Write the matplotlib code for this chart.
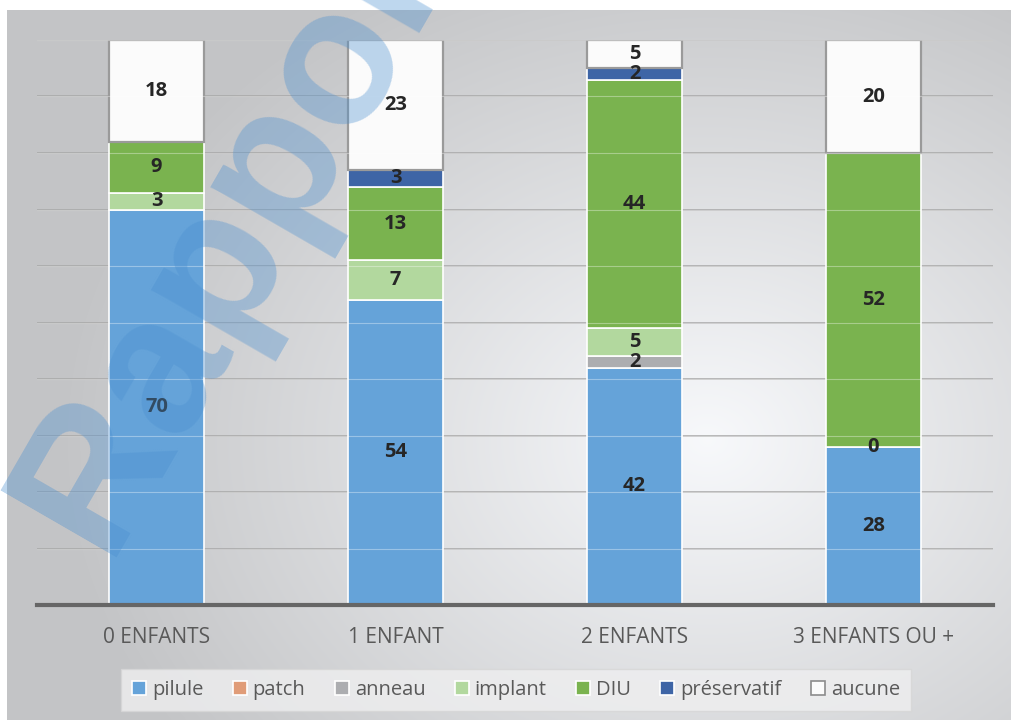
import numpy as np
import matplotlib
matplotlib.use("Agg")
import matplotlib.pyplot as plt
from matplotlib.patches import Patch

# data
categories = ["0 ENFANTS", "1 ENFANT", "2 ENFANTS", "3 ENFANTS OU +"]
methods = ["pilule", "patch", "anneau", "implant", "DIU", "préservatif", "aucune"]
pilule = [70, 54, 42, 28]
patch = [None, None, None, None]
anneau = [None, None, 2, None]
implant = [3, 7, 5, 0]
diu = [9, 13, 44, 52]
preservatif = [None, 3, 2, None]
aucune = [18, 23, 5, 20]

series = {
    "pilule": pilule,
    "patch": patch,
    "anneau": anneau,
    "implant": implant,
    "DIU": diu,
    "préservatif": preservatif,
    "aucune": aucune,
}
colors = {
    "pilule": "#65a3d9",
    "patch": "#e09c78",
    "anneau": "#acadb0",
    "implant": "#b2d89e",
    "DIU": "#7ab34f",
    "préservatif": "#3e65a6",
    "aucune": "#fbfbfb",
}

fig = plt.figure(figsize=(10.11, 7.2), dpi=100)

# gradient background of the chart area
bg = fig.add_axes([7 / 1011, 0, 1 - 7 / 1011, 710 / 720])
yy, xx = np.mgrid[0:710, 0:1004]
d = np.sqrt(((xx - 700) / 1000.0) ** 2 + ((yy - 430) / 800.0) ** 2)
shade = np.clip(0.985 - 0.32 * d, 0.78, 1.0)
bg.imshow(np.dstack([shade * 0.985, shade * 0.99, shade, np.ones_like(shade)]),
          aspect="auto", extent=[0, 1, 0, 1])
bg.set_axis_off()

ax = fig.add_axes([37 / 1011, 115 / 720, 956 / 1011, 565 / 720])
ax.patch.set_alpha(0)
x = np.arange(len(categories))
width = 0.4

for v in range(10, 101, 10):
    ax.axhline(v, color="#a6a6a6", lw=1.1, zorder=1)
    ax.axhline(v, color="#ffffff", lw=0.8, alpha=0.35, zorder=4)

bottom = np.zeros(len(categories))
for name in methods:
    vals = series[name]
    for i, v in enumerate(vals):
        if v is None:
            continue
        if name == "aucune":
            ax.bar(x[i], v, width, bottom=bottom[i], color=colors[name],
                   edgecolor="#9a9a9a", linewidth=1.6, zorder=3)
        else:
            ax.bar(x[i], v, width, bottom=bottom[i], color=colors[name],
                   edgecolor="white", linewidth=1.2, zorder=3)
        ax.text(x[i], bottom[i] + v / 2, str(v), ha="center", va="center",
                fontsize=14.5, fontweight="bold", color="#262626",
                family="Open Sans", zorder=6)
        bottom[i] += v

ax.set_xlim(-0.5, 3.5)
ax.set_ylim(0, 100)
ax.set_xticks(x)
ax.set_xticklabels(categories, fontsize=15, color="#595959", family="Open Sans")
ax.tick_params(axis="x", length=0, pad=16)
ax.set_yticks([])
for s in ["top", "right", "left"]:
    ax.spines[s].set_visible(False)
ax.spines["bottom"].set_color("#666666")
ax.spines["bottom"].set_linewidth(3)
ax.spines["bottom"].set_zorder(5)

handles = []
for name in methods:
    ec = "#8c8c8c" if name == "aucune" else "white"
    handles.append(Patch(facecolor=colors[name], edgecolor=ec, linewidth=1.2, label=name))
leg = fig.legend(handles=handles, loc="center", bbox_to_anchor=(516 / 1011, 1 - 690 / 720),
                 ncol=7, frameon=True, handlelength=0.7, handleheight=0.7,
                 handletextpad=0.3, columnspacing=1.45, borderpad=0.55,
                 prop={"family": "Open Sans", "size": 14.5})
leg.get_frame().set_edgecolor("#d6d6d6")
leg.get_frame().set_facecolor("#efeff0")
leg.get_frame().set_boxstyle("square", pad=0)
for t in leg.get_texts():
    t.set_color("#595959")

# watermark
fig.text(104 / 1011, 1 - 557 / 720, "Rapport", rotation=60, rotation_mode="anchor",
         ha="left", va="baseline", fontsize=140, fontweight="bold",
         family="Liberation Sans", color="#4a8fd0", alpha=0.36, zorder=10)

fig.savefig("out.png", dpi=100)
